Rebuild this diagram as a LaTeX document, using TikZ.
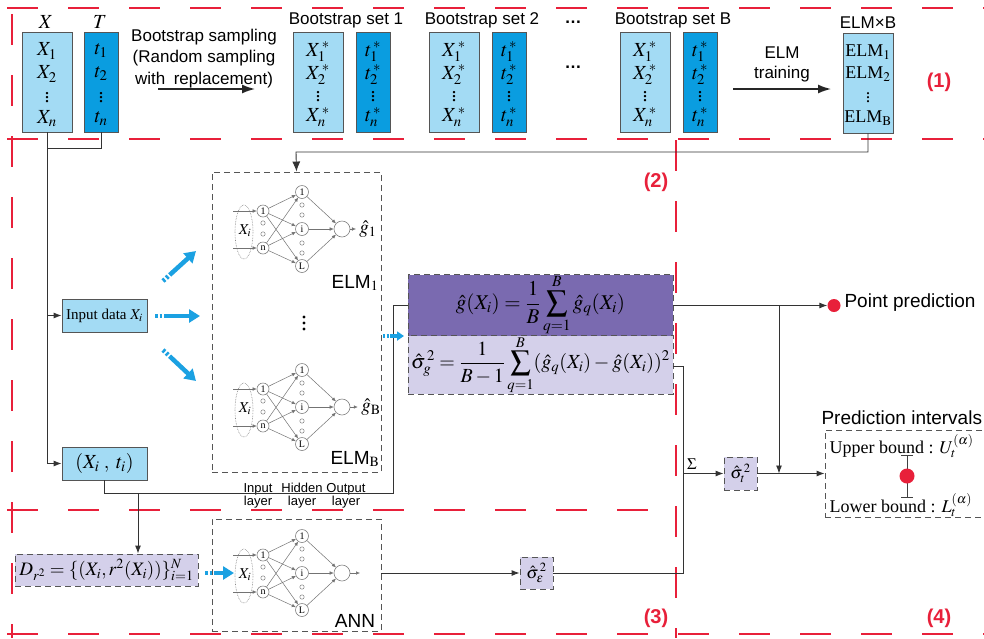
\documentclass[tikz,border=0pt]{standalone}
\usepackage{mathptmx}
\usepackage{fontspec}
\setmainfont{Liberation Serif}
\newfontfamily\sansf{Liberation Sans}
\usetikzlibrary{arrows.meta,calc}
\definecolor{lblue}{HTML}{A3DBF4}
\definecolor{dblue}{HTML}{0A9DE0}
\definecolor{aqua}{HTML}{1BA1E2}
\definecolor{gpurple}{HTML}{7A6AB0}
\definecolor{lav}{HTML}{D4D0EA}
\definecolor{myred}{HTML}{E8203A}
\definecolor{bord}{HTML}{555555}
\newcommand\fs[1]{\fontsize{#1}{#1}\selectfont}
\newcommand\nnet[2]{%
\begin{scope}[shift={(0,#1)}]
  \draw[gray, densely dotted, line width=0.6pt] (244,232) ellipse [x radius=9, y radius=27];
  \node[font=\fs{15}] (#2x) at (245,231) {$X_i$};
  \node[innode] (#2a) at (263,211) {1};
  \node[innode] (#2b) at (263,248) {n};
  \node[hidnode] (#2h1) at (302,192) {1};
  \node[hidnode] (#2hi) at (302,229) {i};
  \node[hidnode] (#2hL) at (302,266) {L};
  \node[outnode] (#2o) at (342,229) {};
  \foreach \yy in {223,234} \draw[gray, line width=0.5pt] (263,\yy) circle[radius=2.2];
  \foreach \yy in {205,215,243,253} \draw[gray, line width=0.5pt] (302,\yy) circle[radius=2.2];
  \coordinate (#2ia) at (233,211);
  \coordinate (#2ib) at (233,248);
  \draw[edge] (#2ia) -- (#2a);
  \draw[edge] (#2ib) -- (#2b);
  \foreach \s in {a,b} \foreach \t in {h1,hi,hL} \draw[edge] (#2\s) -- (#2\t);
  \foreach \t in {h1,hi,hL} \draw[edge] (#2\t) -- (#2o);
\end{scope}}
\begin{document}
\begin{tikzpicture}[x=1pt,y=-1pt,
  conn/.style={draw=black!80, line width=0.9pt},
  arr/.style={-{Latex[length=8pt,width=6pt]}},
  bigarr/.style={draw=black!85, line width=1.5pt, -{Latex[length=13pt,width=9pt]}},
  rdash/.style={draw=myred, line width=1.6pt, dash pattern=on 31pt off 30pt},
  gdash/.style={draw=bord, line width=0.9pt, dash pattern=on 6pt off 4pt},
  boxl/.style={draw=bord, fill=lblue, line width=0.8pt, inner sep=0pt},
  boxd/.style={draw=bord, fill=dblue, line width=0.8pt, inner sep=0pt},
  fbox/.style={gdash, inner sep=0pt},
  barr/.style={draw=aqua, line width=4.5pt, -{Triangle[length=11pt,width=13pt]}, dash pattern=on 2.5pt off 2pt on 2.5pt off 2pt on 200pt},
  innode/.style={draw=gray, circle, line width=0.6pt, minimum size=12pt, inner sep=0pt, font=\fs{10}},
  hidnode/.style={draw=gray, circle, line width=0.6pt, minimum size=13pt, inner sep=0pt, font=\fs{10}},
  outnode/.style={draw=gray, circle, line width=0.6pt, minimum size=16pt, inner sep=0pt},
  edge/.style={draw=gray!90!black, line width=0.5pt, -{Latex[length=4pt,width=3.5pt]}},
  sanslab/.style={font=\sansf\fs{17}},
  reglab/.style={font=\sansf\bfseries\fs{20}, text=myred},
]
\useasboundingbox (0,0) rectangle (984,638);
\clip (0,0) rectangle (984,638);
\fill[white] (0,0) rectangle (984,638);

% ---------- red region boundaries ----------
\draw[rdash] (7,8) -- (984,8);
\draw[rdash] (7,139) -- (984,139);
\draw[rdash] (12,14) -- (12,638);
\draw[rdash] (676,140) -- (676,638);
\draw[rdash] (7,510) -- (660,510);
\draw[rdash] (7,634) -- (984,634);
\node[reglab] (r1) at (939,82) {(1)};
\node[reglab] (r2) at (656,182) {(2)};
\node[reglab] (r3) at (656,618) {(3)};
\node[reglab] (r4) at (939,618) {(4)};

% ---------- region 1 ----------
\node[font=\fs{20}] (lX) at (46,22) {$X$};
\node[font=\fs{20}] (lT) at (100,22) {$T$};
\node[boxl, minimum width=50, minimum height=100] (Xbox) at (47,82) {};
\node[boxd, minimum width=34, minimum height=100] (Tbox) at (101,82) {};
\foreach \y/\a/\b in {51/X_1/t_1, 74/X_2/t_2, 119/X_n/t_n}{
  \node[font=\fs{20}] at (47,\y) {$\a$};
  \node[font=\fs{20}] at (101,\y) {$\b$};}
\node[font=\fs{20}] at (47,95) {$\vdots$};
\node[font=\fs{20}] at (101,95) {$\vdots$};

\node[sanslab, inner sep=0pt] (bst1) at (204,37) {Bootstrap sampling};
\node[sanslab, inner sep=0pt] (bst2) at (204,58) {(Random sampling};
\node[sanslab, inner sep=0pt] (bst3) at (204,80) {with\enspace replacement)};
\coordinate (bsA) at (158,89);
\coordinate (bsB) at (255,89);
\draw[bigarr] (bsA) -- (bsB);

\foreach \cx/\nm/\lab in {318/B1/Bootstrap set 1, 454/B2/Bootstrap set 2, 645/BB/Bootstrap set B}{
  \node[sanslab] (\nm lab) at (\cx+28,20) {\lab};
  \node[boxl, minimum width=50, minimum height=100] (\nm X) at (\cx,82) {};
  \node[boxd, minimum width=34, minimum height=100] (\nm T) at (\cx+55,82) {};
  \foreach \y/\a/\b in {52/X_1^{\,*}/t_1^{\,*}, 75/X_2^{\,*}/t_2^{\,*}, 117/X_n^{\,*}/t_n^{\,*}}{
    \node[font=\fs{20}] at (\cx,\y) {$\a$};
    \node[font=\fs{20}] at (\cx+55,\y) {$\b$};}
  \node[font=\fs{20}] at (\cx,94) {$\vdots$};
  \node[font=\fs{20}] at (\cx+55,94) {$\vdots$};
}
\node[font=\sansf\bfseries\fs{17}] (dots1) at (573,22) {…};
\node[font=\sansf\bfseries\fs{17}] (dots2) at (573,67) {…};

\node[sanslab, inner sep=0pt] (elmtr1) at (782,53) {ELM};
\node[sanslab, inner sep=0pt] (elmtr2) at (782,74) {training};
\coordinate (etA) at (733,89);
\coordinate (etB) at (831,89);
\draw[bigarr] (etA) -- (etB);

\node[font=\sansf\fs{17}] (elmxb) at (868,23) {ELM×B};
\node[boxl, minimum width=50, minimum height=100] (ELMB) at (868,83) {};
\node[font=\fs{18}] at (868,52) {ELM$_1$};
\node[font=\fs{18}] at (868,74) {ELM$_2$};
\node[font=\fs{18}] at (868,95) {$\vdots$};
\node[font=\fs{18}] at (868,118) {ELM$_{\mathrm{B}}$};

% ---------- region 2 ----------
\node[boxl, minimum width=85, minimum height=33, font=\fs{15}] (IDX) at (104.5,315.5) {Input data $X_i$};
\node[boxl, minimum width=85, minimum height=33, font=\fs{20}] (XT) at (104.5,463.5) {$(X_i\;,\;t_i)$};

\coordinate (jx) at (47,148);
\draw[conn] (Tbox.south) |- (jx);
\draw[conn] (Xbox.south) -- (jx);
\draw[conn, arr] (jx) |- (IDX.west);
\draw[conn, arr] (jx) |- (XT.west);

\node[fbox, minimum width=169, minimum height=300] (ELMnet) at (296.5,322) {};
\coordinate (je2) at (296,152);
\draw[conn, -{Latex[length=10pt,width=8pt]}] (ELMB.south) |- (je2) -- (ELMnet.north);

\nnet{0}{n1}
\nnet{178}{nB}
\node[font=\fs{19}] (g1) at (368,229) {$\hat g_1$};
\node[font=\fs{19}] (gB) at (371,407) {$\hat g_{\mathrm B}$};
\draw[edge] (n1o) -- (g1);
\draw[edge] (nBo) -- (gB);
\foreach \yy in {317,323,329} \fill (304,\yy) circle[radius=1.7];
\node[font=\sansf\fs{19}] (elm1lab) at (355,283) {ELM$_1$};
\node[font=\sansf\fs{19}] (elmBlab) at (355,459) {ELM$_{\mathrm B}$};
\node[font=\sansf\fs{13}, align=center, inner sep=0pt] (lin) at (258,496) {Input\\layer};
\node[font=\sansf\fs{13}, align=center, inner sep=0pt] (lhid) at (302,496) {Hidden\\layer};
\node[font=\sansf\fs{13}, align=center, inner sep=0pt] (lout) at (346,496) {Output\\layer};

\coordinate (ba1s) at (163,281); \coordinate (ba1t) at (196,251);
\coordinate (ba2s) at (155,316); \coordinate (ba2t) at (200,316);
\coordinate (ba3s) at (163,350); \coordinate (ba3t) at (196,381);
\draw[barr] (ba1s) -- (ba1t);
\draw[barr] (ba2s) -- (ba2t);
\draw[barr] (ba3s) -- (ba3t);

\node[fbox, fill=gpurple, minimum width=265, minimum height=59, font=\fs{21}] (gbox) at (540.5,305.5)
  {$\displaystyle \hat g(X_i)=\frac{1}{B}\sum_{q=1}^{B}\hat g_q(X_i)$};
\node[fbox, fill=lav, minimum width=265, minimum height=58, font=\fs{20}] (sbox) at (540.5,365)
  {$\displaystyle \hat\sigma_g^{\,2}=\frac{1}{B-1}\sum_{q=1}^{B}(\hat g_q(X_i)-\hat g(X_i))^{2}$};

\coordinate (jt1) at (104.5,493);
\coordinate (jt2) at (393,493);
\coordinate (jt3) at (393,305.5);
\draw[conn] (XT.south) -- (jt1) -- (jt2) -- (jt3) -- (gbox.west);
\coordinate (ba4s) at (383,336); \coordinate (ba4t) at (404,336);
\draw[draw=aqua, line width=3.5pt, -{Triangle[length=7pt,width=9pt]}, dash pattern=on 2pt off 1.5pt on 2pt off 1.5pt on 100pt] (ba4s) -- (ba4t);

% ---------- region 4 ----------
\node[circle, fill=myred, minimum size=13pt, inner sep=0pt] (ppdot) at (834,305.5) {};
\node[font=\sansf\fs{19}, anchor=west] (pplab) at (841,303) {Point prediction};
\draw[conn, arr] (gbox.east) -- (ppdot.west);

\node[fbox, fill=lav, minimum width=33, minimum height=33, font=\fs{17}] (st) at (740.5,473.5) {$\hat\sigma_t^{\,2}$};
\node[gdash, inner sep=0pt, minimum width=180, minimum height=87] (PI) at (915,473.5) {};
\node[font=\sansf\fs{19}, anchor=west] (pilab) at (818,418) {Prediction intervals};
\node[font=\fs{18}, anchor=west] (ub) at (826,446) {Upper bound : $U_t^{(\alpha)}$};
\node[font=\fs{18}, anchor=west] (lb) at (826,505) {Lower bound : $L_t^{(\alpha)}$};
\coordinate (ebT) at (907,455);
\coordinate (ebB) at (907,497);
\draw[black!75, line width=1pt] (ebT) -- (ebB);
\draw[black!75, line width=1pt] ($(ebT)+(-6,0)$) -- ($(ebT)+(6,0)$);
\draw[black!75, line width=1pt] ($(ebB)+(-6,0)$) -- ($(ebB)+(6,0)$);
\node[circle, fill=myred, minimum size=15pt, inner sep=0pt] (pidot) at (907,476) {};

\coordinate (jv1) at (779,305.5);
\coordinate (jv2) at (779,473.5);
\draw[conn, arr] (jv1) -- (jv2);
\draw[conn, arr] (st.east) -- (PI.west);

% ---------- region 3 ----------
\node[fbox, fill=lav, minimum width=183, minimum height=32, font=\fs{19}] (D) at (106.5,570)
  {$D_{r^2}=\{(X_i,r^2(X_i))\}_{i=1}^{N}$};
\coordinate (jd) at (138,493);
\draw[conn, arr] (jd) -- (jd |- D.north);

\node[fbox, minimum width=169, minimum height=112] (ANN) at (296.5,575) {};
\nnet{344}{na}
\node[font=\sansf\fs{19}] (annlab) at (355,621) {ANN};
\coordinate (nag) at (360,573);
\draw[edge] (nao) -- (nag);
\coordinate (ba5s) at (205,573); \coordinate (ba5t) at (234,573);
\draw[barr] (ba5s) -- (ba5t);

\node[fbox, fill=lav, minimum width=33, minimum height=32, font=\fs{17}] (se) at (536.5,573) {$\hat\sigma_\varepsilon^{\,2}$};
\draw[conn, arr] (nag -| ANN.east) -- (se.west);

\coordinate (js1) at (683,366);
\coordinate (js2) at (683,573);
\coordinate (js3) at (683,473.5);
\draw[conn] (sbox.east |- js1) -- (js1) -- (js2) -- (se.east);
\draw[conn, arr] (js3) -- (st.west);
\node[font=\fs{16}, anchor=south west, inner sep=1pt] (sig) at (686,471) {$\Sigma$};
\end{tikzpicture}
\end{document}
